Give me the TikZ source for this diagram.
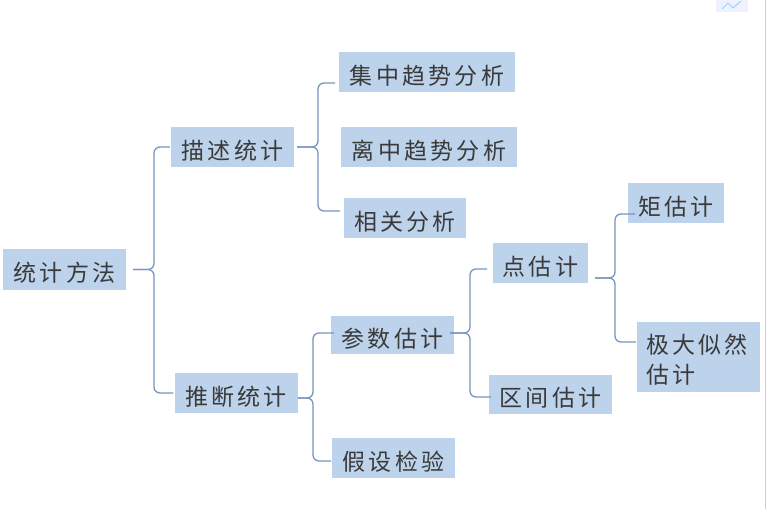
\documentclass[tikz,border=0pt]{standalone}
\usepackage{fontspec}
\setmainfont[LetterSpace=14]{Noto Sans CJK SC}
\definecolor{boxfill}{HTML}{BDD2EB}
\definecolor{linkc}{HTML}{7896C0}
\definecolor{inkc}{HTML}{3A3A3A}
\tikzset{
  leaf/.style={fill=boxfill,text=inkc,inner sep=0pt,font=\fontsize{23}{30}\selectfont,anchor=center,text height=25pt,text depth=1pt},
  link/.style={draw=linkc,line width=1.3pt,rounded corners=6pt}
}
\begin{document}
\begin{tikzpicture}[x=1pt,y=-1pt]
\useasboundingbox (0,0) rectangle (767,509);
\fill[white] (0,0) rectangle (767,509);
% top-right icon and edge
\fill[blue!6] (716,-1) rectangle (748,12);
\draw[cyan!45,line width=1pt] (722,9) -- (728,3) -- (733,8) -- (741,1);
\draw[black!18,line width=0.8pt] (765.5,0) -- (765.5,509);
% boxes
\node[leaf,minimum width=123pt,minimum height=41pt] (root) at (64.5,269.5) {统计方法};
\node[leaf,minimum width=123pt,minimum height=40pt] (desc) at (232.5,147) {描述统计};
\node[leaf,minimum width=123pt,minimum height=40pt] (infer) at (236,393) {推断统计};
\node[leaf,minimum width=176pt,minimum height=40pt] (cent) at (427,72) {集中趋势分析};
\node[leaf,minimum width=176pt,minimum height=40pt] (disp) at (429,147) {离中趋势分析};
\node[leaf,minimum width=122pt,minimum height=40pt] (corr) at (405,218) {相关分析};
\node[leaf,minimum width=123pt,minimum height=38pt] (param) at (392.5,335) {参数估计};
\node[leaf,minimum width=123pt,minimum height=40pt] (test) at (393.5,458) {假设检验};
\node[leaf,minimum width=95pt,minimum height=40pt] (point) at (540.5,263) {点估计};
\node[leaf,minimum width=123pt,minimum height=39pt] (range) at (550.5,394.5) {区间估计};
\node[leaf,minimum width=96pt,minimum height=40pt] (moment) at (676,203) {矩估计};
\node[leaf,minimum width=123pt,minimum height=70pt,align=left,text width=105pt,text height=26pt,text depth=33pt] (mle) at (698.5,357) {极大似然\\估计};
% attachment points
\coordinate (rootOut) at ([xshift=7pt]root.east);
\coordinate (descIn) at ([xshift=-1pt]desc.west);
\coordinate (inferIn) at ([xshift=-1pt]infer.west);
\coordinate (descOut) at ([xshift=3pt]desc.east);
\coordinate (centIn) at (335,83);
\coordinate (corrIn) at (340,211);
\coordinate (inferOut) at (298,398);
\coordinate (paramIn) at (334,333);
\coordinate (testIn) at (331,461);
\coordinate (paramOut) at (450,333);
\coordinate (pointIn) at (487,269);
\coordinate (rangeIn) at (491,397);
\coordinate (pointOut) at (595,278);
\coordinate (momentIn) at (635,214);
\coordinate (mleIn) at (636,342);
% connectors
\draw[link] (rootOut) -- (154,269.5) -- (154,147) -- (descIn);
\draw[link] (rootOut) -- (154,269.5) -- (154,393) -- (inferIn);
\draw[link] (descOut) -- (318,147) -- (318,83) -- (centIn);
\draw[link] (descOut) -- (318,147) -- (318,211) -- (corrIn);
\draw[link] (inferOut) -- (313,398) -- (313,333) -- (paramIn);
\draw[link] (inferOut) -- (313,398) -- (313,461) -- (testIn);
\draw[link] (paramOut) -- (470,333) -- (470,269) -- (pointIn);
\draw[link] (paramOut) -- (470,333) -- (470,397) -- (rangeIn);
\draw[link] (pointOut) -- (615,278) -- (615,214) -- (momentIn);
\draw[link] (pointOut) -- (615,278) -- (615,342) -- (mleIn);
\end{tikzpicture}
\end{document}
